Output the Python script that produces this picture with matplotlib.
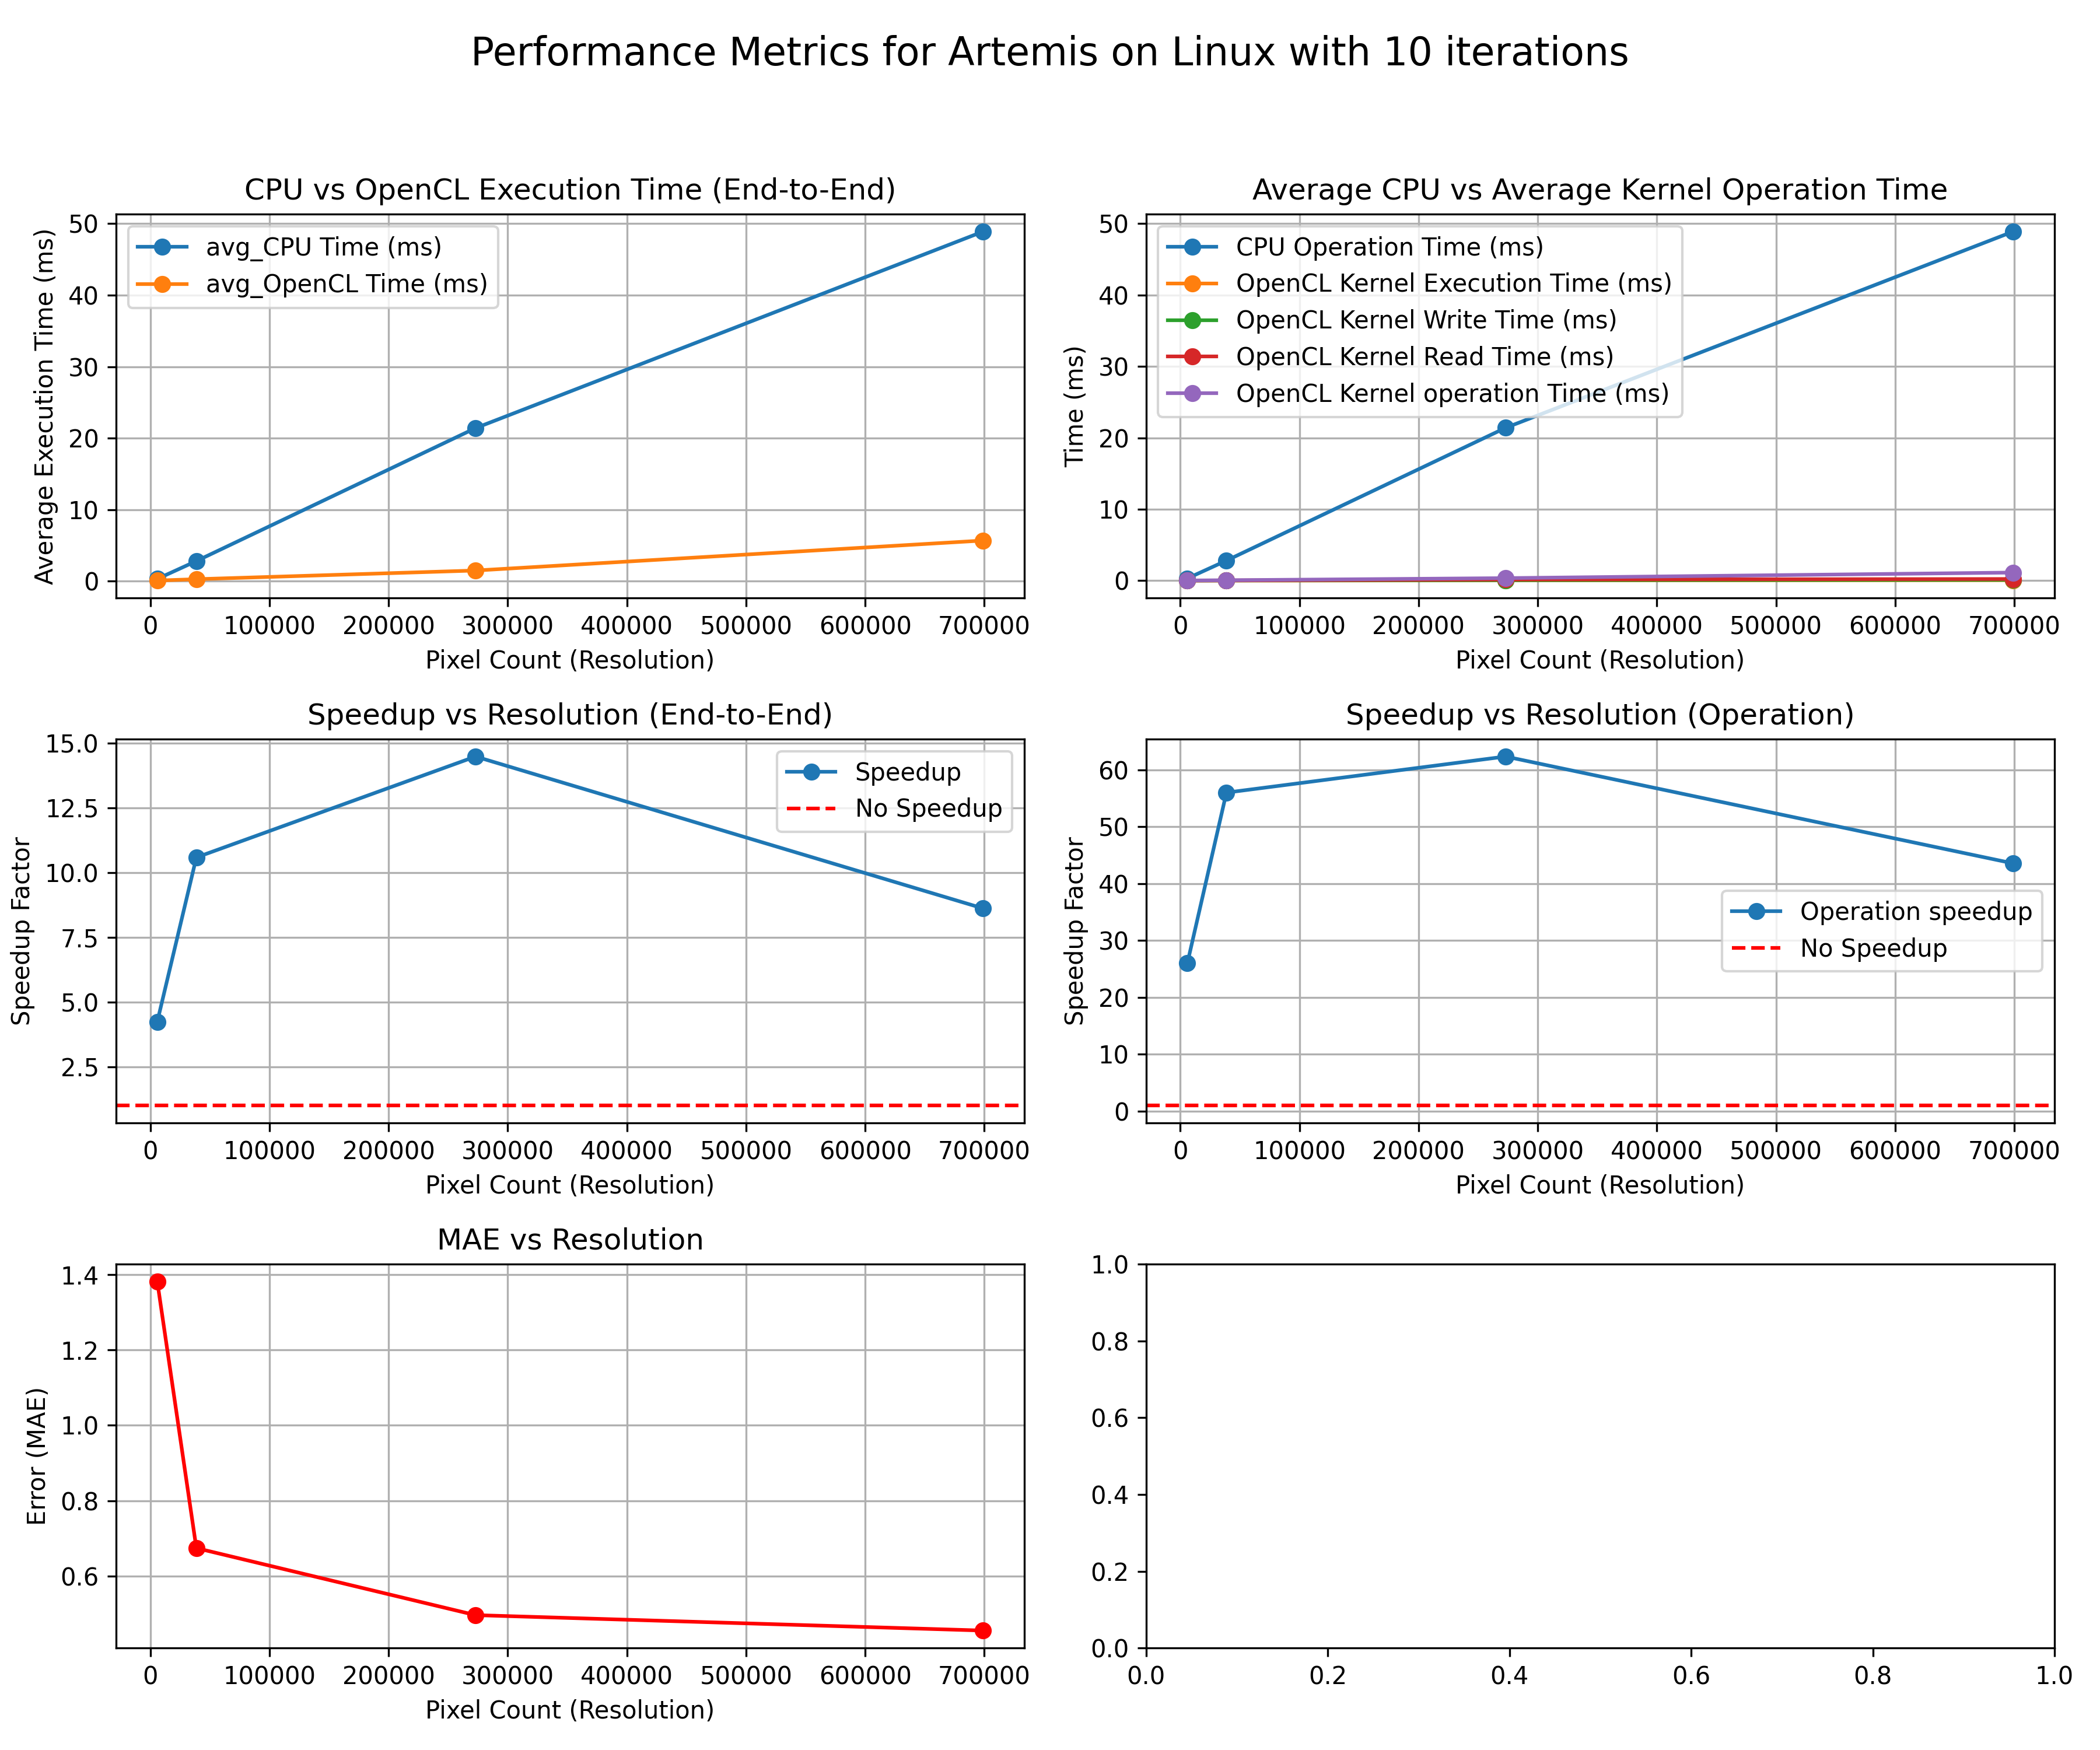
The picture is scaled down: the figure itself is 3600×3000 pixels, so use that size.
import matplotlib
matplotlib.use("Agg")
import matplotlib.pyplot as plt

# pixel counts of the tested images
pixels = [5900, 38700, 273000, 699000]

# end-to-end times (ms)
cpu_time = [0.30, 2.80, 21.40, 48.90]
opencl_time = [0.071, 0.264, 1.477, 5.67]

# kernel timings (ms)
kernel_exec = [0.002, 0.008, 0.03, 0.06]
kernel_write = [0.003, 0.01, 0.05, 0.10]
kernel_read = [0.005, 0.02, 0.15, 0.22]
kernel_op = [0.0115, 0.050, 0.343, 1.123]

# speedups
speedup = [4.24, 10.59, 14.49, 8.62]
op_speedup = [26.0, 56.0, 62.34, 43.56]

# mean absolute error
mae = [1.382, 0.674, 0.496, 0.455]

fig, axes = plt.subplots(3, 2, figsize=(12, 10))
fig.suptitle("Performance Metrics for Artemis on Linux with 10 iterations", fontsize=16)

# CPU vs OpenCL end-to-end
ax = axes[0, 0]
ax.plot(pixels, cpu_time, marker='o', label="avg_CPU Time (ms)")
ax.plot(pixels, opencl_time, marker='o', label="avg_OpenCL Time (ms)")
ax.set_title("CPU vs OpenCL Execution Time (End-to-End)")
ax.set_xlabel("Pixel Count (Resolution)")
ax.set_ylabel("Average Execution Time (ms)")
ax.legend()
ax.grid(True)

# CPU vs kernel breakdown
ax = axes[0, 1]
ax.plot(pixels, cpu_time, marker='o', label="CPU Operation Time (ms)")
ax.plot(pixels, kernel_exec, marker='o', label="OpenCL Kernel Execution Time (ms)")
ax.plot(pixels, kernel_write, marker='o', label="OpenCL Kernel Write Time (ms)")
ax.plot(pixels, kernel_read, marker='o', label="OpenCL Kernel Read Time (ms)")
ax.plot(pixels, kernel_op, marker='o', label="OpenCL Kernel operation Time (ms)")
ax.set_title("Average CPU vs Average Kernel Operation Time")
ax.set_xlabel("Pixel Count (Resolution)")
ax.set_ylabel("Time (ms)")
ax.legend()
ax.grid(True)

# speedup end-to-end
ax = axes[1, 0]
ax.plot(pixels, speedup, marker='o', label="Speedup")
ax.axhline(y=1, color='r', linestyle='--', label="No Speedup")
ax.set_title("Speedup vs Resolution (End-to-End)")
ax.set_xlabel("Pixel Count (Resolution)")
ax.set_ylabel("Speedup Factor")
ax.legend()
ax.grid(True)

# speedup operation
ax = axes[1, 1]
ax.plot(pixels, op_speedup, marker='o', label="Operation speedup")
ax.axhline(y=1, color='r', linestyle='--', label="No Speedup")
ax.set_title("Speedup vs Resolution (Operation)")
ax.set_xlabel("Pixel Count (Resolution)")
ax.set_ylabel("Speedup Factor")
ax.legend()
ax.grid(True)

# MAE
ax = axes[2, 0]
ax.plot(pixels, mae, marker='o', color='r')
ax.set_title("MAE vs Resolution")
ax.set_xlabel("Pixel Count (Resolution)")
ax.set_ylabel("Error (MAE)")
ax.grid(True)

plt.tight_layout(rect=[0, 0, 1, 0.95])
plt.savefig("out.png", dpi=300)
